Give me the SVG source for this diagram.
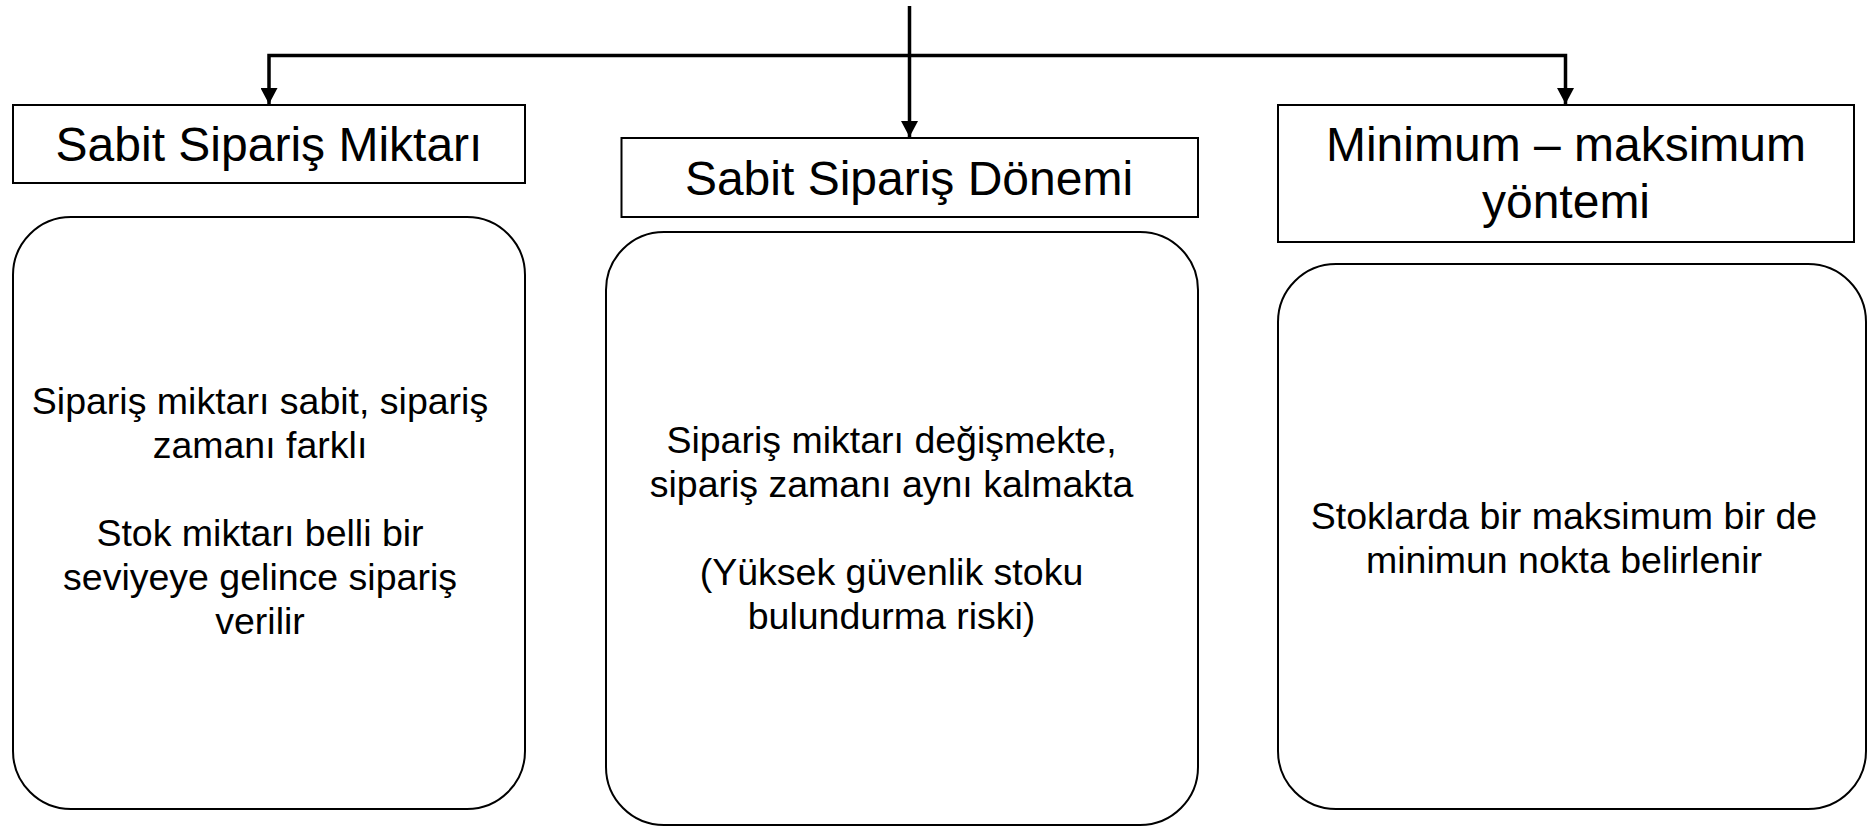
<svg xmlns="http://www.w3.org/2000/svg" width="1867" height="829" viewBox="0 0 1867 829">
<style>
.box{fill:#fff;stroke:#000;stroke-width:2}
.card{fill:#fff;stroke:#000;stroke-width:2}
.title{font-family:"Liberation Sans",Arial,sans-serif;font-size:48px;fill:#000;text-anchor:middle}
.body{font-family:"Liberation Sans",Arial,sans-serif;font-size:37.5px;fill:#000;text-anchor:middle}
.conn{fill:none;stroke:#000;stroke-width:3.5;stroke-linejoin:miter}
</style>
<defs>
<marker id="arrow" markerUnits="userSpaceOnUse" markerWidth="16" markerHeight="17" viewBox="0 0 16 17" refX="16" refY="8.5" orient="auto">
<path d="M0,0 L16,8.5 L0,17 z" fill="#000"/>
</marker>
</defs>
<rect width="1867" height="829" fill="#fff"/>
<g id="connectors">
<path class="conn" d="M909.5,55.5 H269 V104" marker-end="url(#arrow)"/>
<path class="conn" d="M909.5,55.5 H1565.5 V104" marker-end="url(#arrow)"/>
<path class="conn" d="M909.5,6 V137" marker-end="url(#arrow)"/>
</g>
<g id="node-sabit-miktar">
<rect class="box" x="13" y="105" width="512" height="78"/>
<text class="title" x="269" y="161">Sabit Sipariş Miktarı</text>
</g>
<g id="node-sabit-donem">
<rect class="box" x="621.5" y="138" width="576.5" height="79"/>
<text class="title" x="909" y="195">Sabit Sipariş Dönemi</text>
</g>
<g id="node-minmax">
<rect class="box" x="1278" y="105" width="576" height="137"/>
<text class="title" x="1566" y="161">Minimum – maksimum</text>
<text class="title" x="1566" y="218">yöntemi</text>
</g>
<g id="card-sabit-miktar">
<rect class="card" x="13" y="217" width="512" height="592" rx="58" ry="58"/>
<text class="body" x="260" y="414">Sipariş miktarı sabit, sipariş</text>
<text class="body" x="260" y="458">zamanı farklı</text>
<text class="body" x="260" y="546">Stok miktarı belli bir</text>
<text class="body" x="260" y="590">seviyeye gelince sipariş</text>
<text class="body" x="260" y="634">verilir</text>
</g>
<g id="card-sabit-donem">
<rect class="card" x="606" y="232" width="592" height="593" rx="58" ry="58"/>
<text class="body" x="891.5" y="453">Sipariş miktarı değişmekte,</text>
<text class="body" x="891.5" y="497">sipariş zamanı aynı kalmakta</text>
<text class="body" x="891.5" y="585">(Yüksek güvenlik stoku</text>
<text class="body" x="891.5" y="629">bulundurma riski)</text>
</g>
<g id="card-minmax">
<rect class="card" x="1278" y="264" width="588" height="545" rx="58" ry="58"/>
<text class="body" x="1564" y="529">Stoklarda bir maksimum bir de</text>
<text class="body" x="1564" y="573">minimun nokta belirlenir</text>
</g>
</svg>
